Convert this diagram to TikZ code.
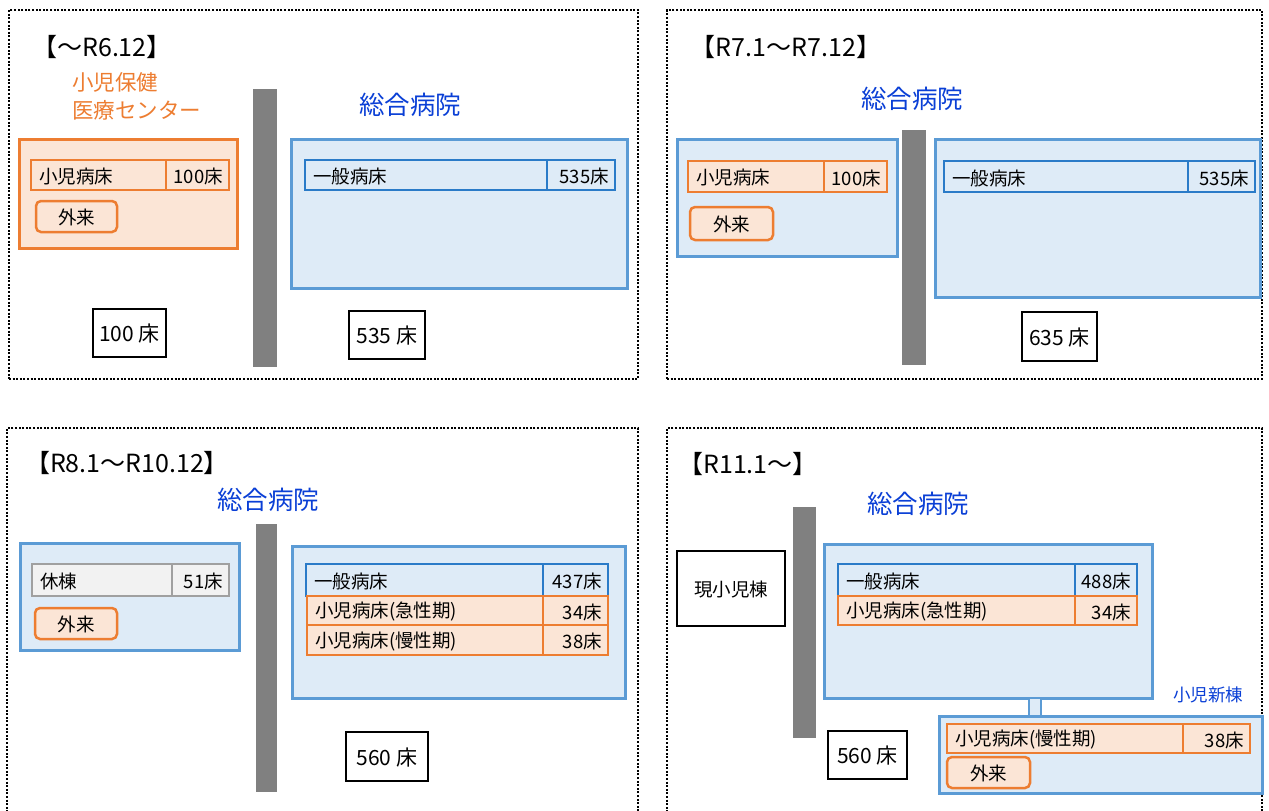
\documentclass[tikz,border=0pt]{standalone}
\usepackage{fontspec}
\setmainfont{Noto Sans CJK JP}
\definecolor{bluebd}{HTML}{5B9BD5}
\definecolor{bluefill}{HTML}{DEEBF7}
\definecolor{orangebd}{HTML}{ED7D31}
\definecolor{orangefill}{HTML}{FBE5D6}
\definecolor{rowbluebd}{HTML}{2A7BC8}
\definecolor{graybd}{HTML}{A0A0A0}
\definecolor{grayfill}{HTML}{F2F2F2}
\definecolor{wallgray}{HTML}{808080}
\definecolor{titleblue}{HTML}{0A3FD6}
\tikzset{
  panel/.style={draw=black, line width=2pt, dash pattern=on 2pt off 1.6pt},
  hosp/.style={draw=bluebd, fill=bluefill, line width=3pt},
  ctr/.style={draw=orangebd, fill=orangefill, line width=3pt},
  rowb/.style={draw=rowbluebd, fill=bluefill, line width=1.5pt},
  rowo/.style={draw=orangebd, fill=orangefill, line width=1.5pt},
  rowg/.style={draw=graybd, fill=grayfill, line width=1.5pt},
  opd/.style={draw=orangebd, fill=orangefill, line width=2.5pt, rounded corners=5pt},
  bed/.style={draw=black, fill=white, line width=1.6pt},
  wall/.style={fill=wallgray},
  linkst/.style={draw=bluebd, fill=bluefill, line width=2pt},
  lbl/.style={font=\fontsize{18.5}{20}\selectfont, inner sep=0pt},
  bedlbl/.style={font=\fontsize{21}{22}\selectfont, inner sep=0pt},
  ttl/.style={font=\fontsize{25}{28}\selectfont, inner sep=0pt},
  hname/.style={font=\fontsize{25.5}{30}\selectfont, text=titleblue, inner sep=0pt},
  oname/.style={font=\fontsize{21.5}{24}\selectfont, text=orangebd, inner sep=0pt},
}
% box: name, style, x1, y1, x2, y2
\newcommand\bx[6]{\node[#2, inner sep=0pt, outer sep=0pt, anchor=north west, minimum width={#5-#3}, minimum height={#6-#4}] (#1) at (#3,#4) {};}
% row: name, style, x1, y1, xdiv, x2, y2, left, right
\newcommand\tblrow[9]{%
  \bx{#1l}{#2}{#3}{#4}{#5}{#7}%
  \bx{#1r}{#2}{#5}{#4}{#6}{#7}%
  \node[lbl, anchor=west] (#1lt) at ([xshift=8pt, yshift=-1.5pt]#1l.west) {#8};%
  \node[lbl, anchor=east] (#1rt) at ([xshift=-6pt, yshift=-1.5pt]#1r.east) {#9};}
\begin{document}
\begin{tikzpicture}[x=1pt, y=-1pt]
\useasboundingbox (0,0) rectangle (1269,811);
\fill[white] (0,0) rectangle (1269,811);

% ===== Panel 1 =====
\bx{p1}{panel}{9}{10}{638}{379}
\node[ttl] (t1) at (102,47) {【～R6.12】};
\node[oname, anchor=west] (o1a) at (72,82) {小児保健};
\node[oname, anchor=west] (o1b) at (72,110) {医療センター};
\bx{c1}{ctr}{19}{139}{237}{248}
\tblrow{a1}{rowo}{31}{160}{166}{229}{190}{小児病床}{100床}
\bx{f1}{opd}{36}{201}{117}{232}
\node[lbl] (f1t) at ([yshift=-1pt]f1) {外来};
\bx{w1}{wall}{253}{89}{277}{367}
\node[hname] (h1) at (410,105) {総合病院};
\bx{g1}{hosp}{291}{139}{627}{288}
\tblrow{b1}{rowb}{305}{160}{547}{615}{190}{一般病床}{535床}
\bx{n1a}{bed}{93}{309}{166}{357}
\node[bedlbl] (n1at) at ([yshift=-1pt]n1a) {100 床};
\bx{n1b}{bed}{349}{311}{425}{359}
\node[bedlbl] (n1bt) at ([yshift=-1pt]n1b) {535 床};

% ===== Panel 2 =====
\bx{p2}{panel}{667}{10}{1262}{379}
\node[ttl] (t2) at (786,47) {【R7.1～R7.12】};
\node[hname] (h2) at (912,99) {総合病院};
\bx{g2a}{hosp}{677}{139}{897}{256}
\tblrow{a2}{rowo}{688}{161}{824}{887}{192}{小児病床}{100床}
\bx{f2}{opd}{690}{207}{773}{240}
\node[lbl] (f2t) at ([yshift=-1pt]f2) {外来};
\bx{w2}{wall}{902}{130}{926}{365}
\bx{g2b}{hosp}{935}{139}{1260}{297}
\tblrow{b2}{rowb}{944}{161}{1188}{1255}{192}{一般病床}{535床}
\bx{n2}{bed}{1022}{312}{1097}{361}
\node[bedlbl] (n2t) at ([yshift=-1pt]n2) {635 床};

% ===== Panel 3 =====
\bx{p3}{panel}{7}{428}{638}{814}
\node[ttl] (t3) at (127,463) {【R8.1～R10.12】};
\node[hname] (h3) at (268,500) {総合病院};
\bx{g3a}{hosp}{20}{543}{239}{650}
\tblrow{a3}{rowg}{32}{564}{172}{229}{596}{休棟}{51床}
\bx{f3}{opd}{35}{608}{117}{639}
\node[lbl] (f3t) at ([yshift=-1pt]f3) {外来};
\bx{w3}{wall}{256}{524}{277}{792}
\bx{g3b}{hosp}{292}{546}{625}{698}
\tblrow{b3}{rowb}{306}{564}{543}{608}{596}{一般病床}{437床}
\tblrow{c3}{rowo}{307}{596}{543}{608}{625}{小児病床(急性期)}{34床}
\tblrow{d3}{rowo}{307}{625}{543}{608}{655}{小児病床(慢性期)}{38床}
\bx{n3}{bed}{346}{732}{428}{781}
\node[bedlbl] (n3t) at ([yshift=-1pt]n3) {560 床};

% ===== Panel 4 =====
\bx{p4}{panel}{667}{428}{1262}{814}
\node[ttl] (t4) at (748,464) {【R11.1～】};
\node[hname] (h4) at (918,504) {総合病院};
\bx{k4}{bed}{677}{551}{785}{626}
\node[lbl] (k4t) at ([yshift=-1pt]k4) {現小児棟};
\bx{w4}{wall}{793}{507}{816}{738}
\bx{g4a}{hosp}{824}{544}{1152}{698}
\tblrow{b4}{rowb}{838}{564}{1075}{1137}{596}{一般病床}{488床}
\tblrow{c4}{rowo}{838}{596}{1075}{1137}{625}{小児病床(急性期)}{34床}
\bx{l4}{linkst}{1029}{698}{1041}{716}
\node[font=\fontsize{17.5}{20}\selectfont, text=titleblue, inner sep=0pt] (s4) at (1208,695) {小児新棟};
\bx{g4b}{hosp}{939}{716}{1262}{793}
\tblrow{d4}{rowo}{947}{724}{1183}{1250}{753}{小児病床(慢性期)}{38床}
\bx{f4}{opd}{947}{757}{1030}{788}
\node[lbl] (f4t) at ([yshift=-1pt]f4) {外来};
\bx{n4}{bed}{828}{731}{907}{779}
\node[bedlbl] (n4t) at ([yshift=-1pt]n4) {560 床};
\end{tikzpicture}
\end{document}
